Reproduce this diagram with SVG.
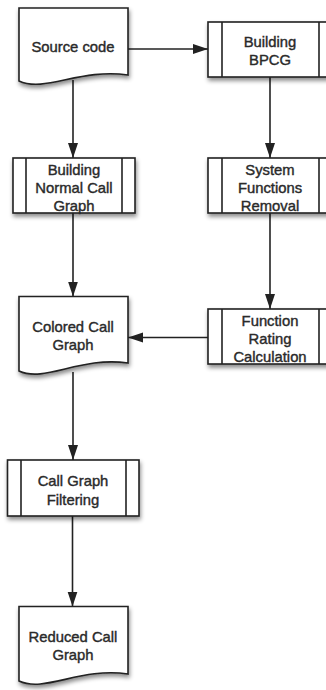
<svg xmlns="http://www.w3.org/2000/svg" width="326" height="690" viewBox="0 0 326 690">
  <style>
    .box { fill: #ffffff; stroke: #222222; stroke-width: 1.6; filter: url(#shadow); }
    .bar { fill: none; stroke: #222222; stroke-width: 1.6; }
    .edge { fill: none; stroke: #222222; stroke-width: 1.6; marker-end: url(#arrow); }
    .label { font-family: "Liberation Sans", Arial, Helvetica, sans-serif; font-size: 14.8px; fill: #2a2a2a; stroke: #2a2a2a; stroke-width: 0.4; text-anchor: middle; }
  </style>
  <defs>
    <filter id="shadow" x="-10%" y="-10%" width="125%" height="135%">
      <feDropShadow dx="1" dy="3" stdDeviation="2" flood-color="#000000" flood-opacity="0.45"/>
    </filter>
    <marker id="arrow" markerUnits="userSpaceOnUse" markerWidth="16" markerHeight="11" refX="15" refY="5" orient="auto">
      <path d="M0,0 L15,5 L0,10 Z" fill="#222222"/>
    </marker>
  </defs>
  <rect width="326" height="690" fill="#ffffff"/>

  <!-- connectors -->
  <g id="connectors">
    <path class="edge" d="M128,49 H208"/>
    <path class="edge" d="M73,80 V158"/>
    <path class="edge" d="M270,77 V158"/>
    <path class="edge" d="M73,213 V296.5"/>
    <path class="edge" d="M270,213 V309"/>
    <path class="edge" d="M208,337.5 H128"/>
    <path class="edge" d="M73,372 V460"/>
    <path class="edge" d="M72.5,516 V606.5"/>
  </g>

  <!-- document: source code -->
  <g id="source-code">
    <path class="box" d="M19,8 H128 V75 C80,68 45,93 19,81 Z"/>
    <text class="label" x="73" y="51.5">Source code</text>
  </g>

  <!-- process: building BPCG -->
  <g id="building-bpcg">
    <rect class="box" x="208" y="22" width="125" height="55"/>
    <path class="bar" d="M222,22 V77 M319,22 V77"/>
    <text class="label" x="270" y="47">Building</text>
    <text class="label" x="270" y="65">BPCG</text>
  </g>

  <!-- process: building normal call graph -->
  <g id="building-normal-call-graph">
    <rect class="box" x="13" y="158" width="122" height="55"/>
    <path class="bar" d="M26,158 V213 M122,158 V213"/>
    <text class="label" x="74" y="175">Building</text>
    <text class="label" x="74" y="193">Normal Call</text>
    <text class="label" x="74" y="211">Graph</text>
  </g>

  <!-- process: system functions removal -->
  <g id="system-functions-removal">
    <rect class="box" x="208" y="158" width="125" height="55"/>
    <path class="bar" d="M222,158 V213 M319,158 V213"/>
    <text class="label" x="270" y="175">System</text>
    <text class="label" x="270" y="193">Functions</text>
    <text class="label" x="270" y="211">Removal</text>
  </g>

  <!-- document: colored call graph -->
  <g id="colored-call-graph">
    <path class="box" d="M19,296.5 H128 V363 C80,356 45,383 19,371 Z"/>
    <text class="label" x="73" y="332">Colored Call</text>
    <text class="label" x="73" y="350">Graph</text>
  </g>

  <!-- process: function rating calculation -->
  <g id="function-rating-calculation">
    <rect class="box" x="208" y="309" width="125" height="55"/>
    <path class="bar" d="M222,309 V364 M319,309 V364"/>
    <text class="label" x="270" y="325.5">Function</text>
    <text class="label" x="270" y="343.5">Rating</text>
    <text class="label" x="270" y="361.5">Calculation</text>
  </g>

  <!-- process: call graph filtering -->
  <g id="call-graph-filtering">
    <rect class="box" x="7.5" y="460" width="131.5" height="56"/>
    <path class="bar" d="M21,460 V516 M126,460 V516"/>
    <text class="label" x="73" y="486">Call Graph</text>
    <text class="label" x="73" y="504.5">Filtering</text>
  </g>

  <!-- document: reduced call graph -->
  <g id="reduced-call-graph">
    <path class="box" d="M19,606.5 H128 V674 C80,667 45,693 19,681 Z"/>
    <text class="label" x="73" y="641.5">Reduced Call</text>
    <text class="label" x="73" y="659.5">Graph</text>
  </g>
</svg>
